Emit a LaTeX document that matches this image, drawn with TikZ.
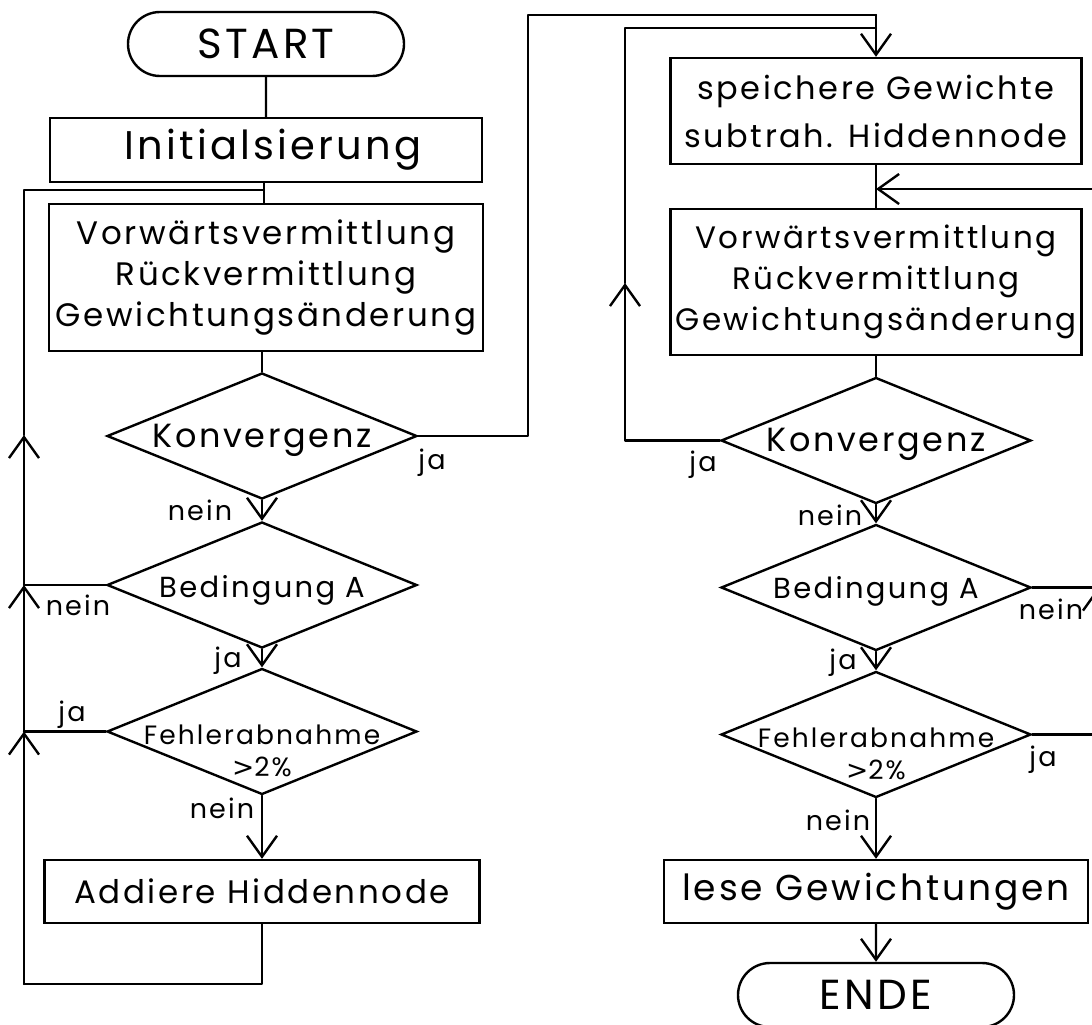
\documentclass[tikz,border=0pt]{standalone}
\usepackage{fontspec}
\setmainfont{Poppins}[LetterSpace=8.0]
\newfontfamily\chevronfont{DejaVu Sans}
\usetikzlibrary{shapes.geometric,shapes.misc,arrows.meta}
\newcommand{\gtsign}{{\chevronfont >}}
\begin{document}
\begin{tikzpicture}[x=1pt,y=-1pt,
  flow/.style={draw, line width=2.4pt, line cap=round, line join=round},
  arrowed/.style={-{Straight Barb[length=21pt,width=30pt]}},
  term/.style={draw, line width=2.4pt, rounded rectangle, minimum width=276pt,
    minimum height=64pt, inner sep=0pt, font=\fontsize{42}{48}\selectfont},
  procbox/.style={draw, line width=2.4pt, rectangle, inner sep=0pt, align=center,
    font=\fontsize{32.5}{41}\selectfont},
  decision/.style={draw, line width=2.4pt, diamond, inner sep=0pt,
    minimum width=310pt, minimum height=126pt},
  dtext/.style={inner sep=0pt, align=center, font=\fontsize{33.5}{36}\selectfont},
  ftext/.style={inner sep=0pt, align=center, font=\fontsize{26.5}{32}\selectfont},
  lbl/.style={inner sep=0pt, anchor=base, font=\fontsize{27}{30}\selectfont},
]
\useasboundingbox (0,0) rectangle (1092,1025);

% ---------- left column ----------
\node[term] (start) at (266,44) {START};
\node[procbox, minimum width=432pt, minimum height=64pt,
  font=\fontsize{40}{44}\selectfont] (init) at (266,150) {\hspace*{14pt}Initialsierung};
\node[procbox, minimum width=434pt, minimum height=147pt] (vorwL) at (266,277.5)
  {Vorwärtsvermittlung\\Rückvermittlung\\Gewichtungsänderung};
\node[decision] (konvL) at (262,436) {};
\node[dtext, anchor=base] (konvLt) at ([yshift=-11pt]konvL.center) {Konvergenz};
\node[decision] (bedL) at (262,585) {};
\node[dtext, anchor=base, font=\fontsize{29}{36}\selectfont] (bedLt)
  at ([yshift=-12pt]bedL.center) {Bedingung A};
\node[decision] (fehlL) at (262,731.5) {};
\node[ftext] (fehlLt) at ([yshift=-19pt]fehlL.center)
  {Fehlerabnahme\\\gtsign2\%};
\node[procbox, minimum width=435pt, minimum height=63pt] (addL) at (262,891.5)
  {Addiere Hiddennode};

% ---------- right column ----------
\node[procbox, minimum width=411pt, minimum height=106pt,
  font=\fontsize{32}{48}\selectfont] (speich) at (876,111)
  {speichere Gewichte\\subtrah. Hiddennode};
\node[procbox, minimum width=411pt, minimum height=146pt,
  font=\fontsize{31}{41}\selectfont] (vorwR) at (876,282)
  {Vorwärtsvermittlung\\Rückvermittlung\\Gewichtungsänderung};
\node[decision] (konvR) at (876,440.5) {};
\node[dtext, anchor=base] (konvRt) at ([yshift=-10.5pt]konvR.center) {Konvergenz};
\node[decision] (bedR) at (876,587.5) {};
\node[dtext, anchor=base, font=\fontsize{29}{36}\selectfont] (bedRt)
  at ([yshift=-10.5pt]bedR.center) {Bedingung A};
\node[decision] (fehlR) at (876,734.5) {};
\node[ftext] (fehlRt) at ([yshift=-19pt]fehlR.center)
  {Fehlerabnahme\\\gtsign2\%};
\node[procbox, minimum width=424pt, minimum height=63pt,
  font=\fontsize{36}{40}\selectfont] (lese) at (876,891.5) {lese Gewichtungen};
\node[term] (ende) at (876,995) {ENDE};

% ---------- loop corners ----------
\coordinate (lbot) at (24,984);
\coordinate (ltop) at (24,190);
\coordinate (ljoin) at (264,190);
\coordinate (oloop) at (528,15);
\coordinate (iloop) at (625,28);
\coordinate (rtop) at (1098,189);
\coordinate (rjoin) at (876,189);

% ---------- left column connectors ----------
\draw[flow] (start) -- (init);
\draw[flow] (init.south -| ljoin) -- (vorwL.north -| ljoin);
\draw[flow] (vorwL.south -| konvL) -- (konvL);
\draw[flow,arrowed] (konvL) -- (bedL);
\draw[flow,arrowed] (bedL) -- (fehlL);
\draw[flow,arrowed] (fehlL) -- (addL);

% left feedback loop
\draw[flow] (addL.south) |- (lbot);
\draw[flow,arrowed] (lbot) -- (lbot |- fehlL.west);
\draw[flow] (fehlL.west) -- (lbot |- fehlL.west);
\draw[flow,arrowed] (lbot |- fehlL.west) -- (lbot |- bedL.west);
\draw[flow] (bedL.west) -- (lbot |- bedL.west);
\draw[flow,arrowed] (lbot |- bedL.west) -- (24,435);
\draw[flow] (24,435) -- (ltop) -- (ljoin);

% convergence branch to the right column
\draw[flow] (konvL.east) -- (konvL.east -| oloop) -- (oloop) -- (oloop -| speich.north);
\draw[flow,arrowed] (oloop -| speich.north) -- (speich.north);

% ---------- right column connectors ----------
\draw[flow] (speich) -- (vorwR);
\draw[flow] (vorwR) -- (konvR);
\draw[flow,arrowed] (konvR) -- (bedR);
\draw[flow,arrowed] (bedR) -- (fehlR);
\draw[flow,arrowed] (fehlR) -- (lese);
\draw[flow,arrowed] (lese) -- (ende);

% inner loop from the right convergence test
\draw[flow,arrowed] (konvR.west) -| (625,283);
\draw[flow] (625,283) -- (iloop) -- (iloop -| speich.north);

% right feedback loop
\draw[flow] (fehlR.east) -- (fehlR.east -| rtop);
\draw[flow,arrowed] (fehlR.east -| rtop) -- (bedR.east -| rtop);
\draw[flow] (bedR.east) -- (bedR.east -| rtop);
\draw[flow] (bedR.east -| rtop) -- (rtop);
\draw[flow,arrowed] (rtop) -- (rjoin);

% ---------- branch labels ----------
\node[lbl] (l1) at (432,469) {ja};
\node[lbl] (l2) at (200,520) {nein};
\node[lbl] (l3) at (78,615) {nein};
\node[lbl] (l4) at (228,667) {ja};
\node[lbl] (l5) at (72,721) {ja};
\node[lbl] (l6) at (222,818) {nein};
\node[lbl] (r1) at (703,471) {ja};
\node[lbl] (r2) at (830,525) {nein};
\node[lbl] (r3) at (1051,619) {nein};
\node[lbl] (r4) at (843,669) {ja};
\node[lbl] (r5) at (1043,766) {ja};
\node[lbl] (r6) at (838,830) {nein};
\end{tikzpicture}
\end{document}
